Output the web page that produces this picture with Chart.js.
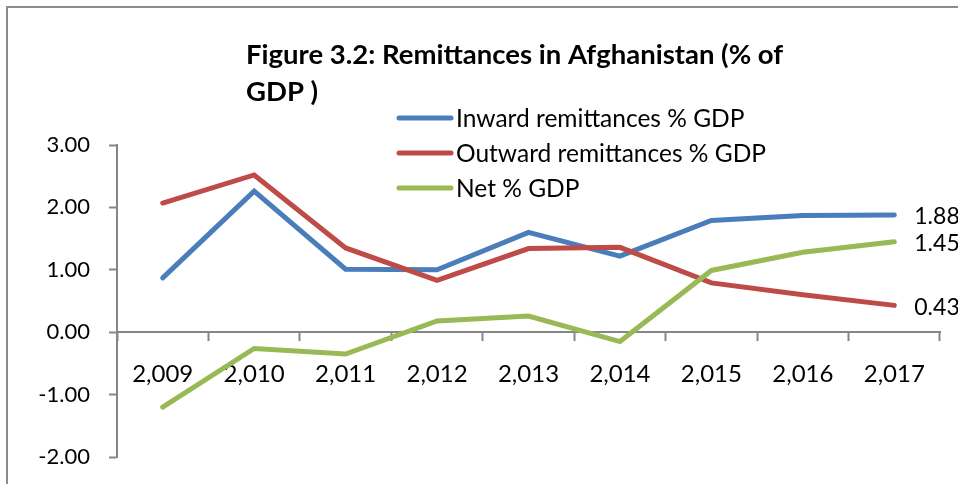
<!DOCTYPE html>
<html>
<head>
<meta charset="utf-8">
<title>Remittances in Afghanistan</title>
<script src="https://cdn.jsdelivr.net/npm/chart.js@4.4.1/dist/chart.umd.min.js"></script>
<style>
    html, body { margin: 0; padding: 0; background: #fff; }
    #wrap { width: 958px; height: 484px; position: relative; }
</style>
</head>
<body>
<div id="wrap"><canvas id="remitChart"></canvas></div>
<script>
// Remittances as % of GDP, by year
const years = [2009, 2010, 2011, 2012, 2013, 2014, 2015, 2016, 2017];
const inward = [0.87, 2.26, 1.01, 1.00, 1.60, 1.22, 1.79, 1.87, 1.88];
const outward = [2.07, 2.52, 1.35, 0.83, 1.34, 1.36, 0.79, 0.60, 0.43];
const net = [-1.20, -0.26, -0.35, 0.18, 0.26, -0.15, 0.99, 1.28, 1.45];

const seriesNames = ['Inward remittances % GDP', 'Outward remittances % GDP', 'Net % GDP'];
const seriesColors = ['#4a7ebb', '#be4b48', '#98b954'];
const titleLines = ['Figure 3.2: Remittances in Afghanistan (% of', 'GDP )'];

const FONT = 'Lato, "Open Sans", sans-serif';
const AXIS_GREY = '#868686';

// Frame, title, legend and end-of-line value labels
const decorations = {
    id: 'decorations',
    beforeDraw(chart) {
        const ctx = chart.ctx;
        ctx.save();
        ctx.fillStyle = '#fff';
        ctx.fillRect(0, 0, chart.width, chart.height);
        ctx.strokeStyle = '#8c8c8c';
        ctx.lineWidth = 2;
        ctx.strokeRect(7, 7, chart.width + 20, chart.height + 20);
        ctx.restore();
    },
    afterDraw(chart) {
        const ctx = chart.ctx;
        ctx.save();
        ctx.fillStyle = '#000';

        // title
        ctx.font = 'bold 27.5px ' + FONT;
        ctx.textAlign = 'left';
        ctx.textBaseline = 'alphabetic';
        titleLines.forEach((line, i) => ctx.fillText(line, 246, 64 + i * 37));

        // legend
        ctx.font = '24.5px ' + FONT;
        ctx.textBaseline = 'middle';
        chart.data.datasets.forEach((ds, i) => {
            const y = 118 + i * 35;
            ctx.strokeStyle = ds.borderColor;
            ctx.lineWidth = 5;
            ctx.lineCap = 'round';
            ctx.beginPath();
            ctx.moveTo(399, y);
            ctx.lineTo(451, y);
            ctx.stroke();
            ctx.fillText(ds.label, 456, y + 1);
        });

        // value of the last point in each series
        ctx.font = '23px ' + FONT;
        chart.data.datasets.forEach((ds, i) => {
            const pts = chart.getDatasetMeta(i).data;
            const last = pts[pts.length - 1];
            ctx.fillText(ds.data[ds.data.length - 1].toFixed(2), last.x + 20, last.y + 2);
        });
        ctx.restore();
    }
};

const makeSeries = (i, data, order) => ({
    label: seriesNames[i],
    data: data,
    borderColor: seriesColors[i],
    backgroundColor: seriesColors[i],
    borderWidth: 5,
    borderCapStyle: 'round',
    borderJoinStyle: 'miter',
    pointRadius: 0,
    pointHoverRadius: 0,
    tension: 0,
    order: order
});

new Chart(document.getElementById('remitChart'), {
    type: 'line',
    data: {
        labels: years,
        datasets: [
            makeSeries(0, inward, 3),
            makeSeries(1, outward, 2),
            makeSeries(2, net, 1)
        ]
    },
    options: {
        responsive: true,
        maintainAspectRatio: false,
        animation: false,
        layout: { padding: { left: 0, top: 145, right: 18, bottom: 27 } },
        plugins: {
            legend: { display: false },
            title: { display: false },
            tooltip: { enabled: false }
        },
        scales: {
            x: {
                type: 'category',
                position: { y: 0 },
                offset: true,
                grid: {
                    offset: true,
                    drawOnChartArea: false,
                    drawTicks: true,
                    tickLength: 8,
                    tickWidth: 2,
                    tickColor: AXIS_GREY
                },
                border: { display: true, color: AXIS_GREY, width: 2 },
                ticks: {
                    color: '#000',
                    font: { family: FONT, size: 24 },
                    padding: 20,
                    maxRotation: 0,
                    autoSkip: false,
                    callback: function (value) {
                        return Number(this.getLabelForValue(value)).toLocaleString('en-US');
                    }
                }
            },
            y: {
                min: -2,
                max: 3,
                afterFit(scale) {
                    // fixed axis gutter; the label padding should not shrink the plot
                    scale.width = 117;
                    scale.paddingTop = 0;
                    scale.paddingBottom = 0;
                },
                grid: {
                    drawOnChartArea: false,
                    drawTicks: true,
                    tickLength: 8,
                    tickWidth: 2,
                    tickColor: AXIS_GREY
                },
                border: { display: true, color: AXIS_GREY, width: 2 },
                ticks: {
                    stepSize: 1,
                    color: '#000',
                    font: { family: FONT, size: 22 },
                    padding: 19,
                    callback: v => v.toFixed(2)
                }
            }
        }
    },
    plugins: [decorations]
});
</script>
</body>
</html>
